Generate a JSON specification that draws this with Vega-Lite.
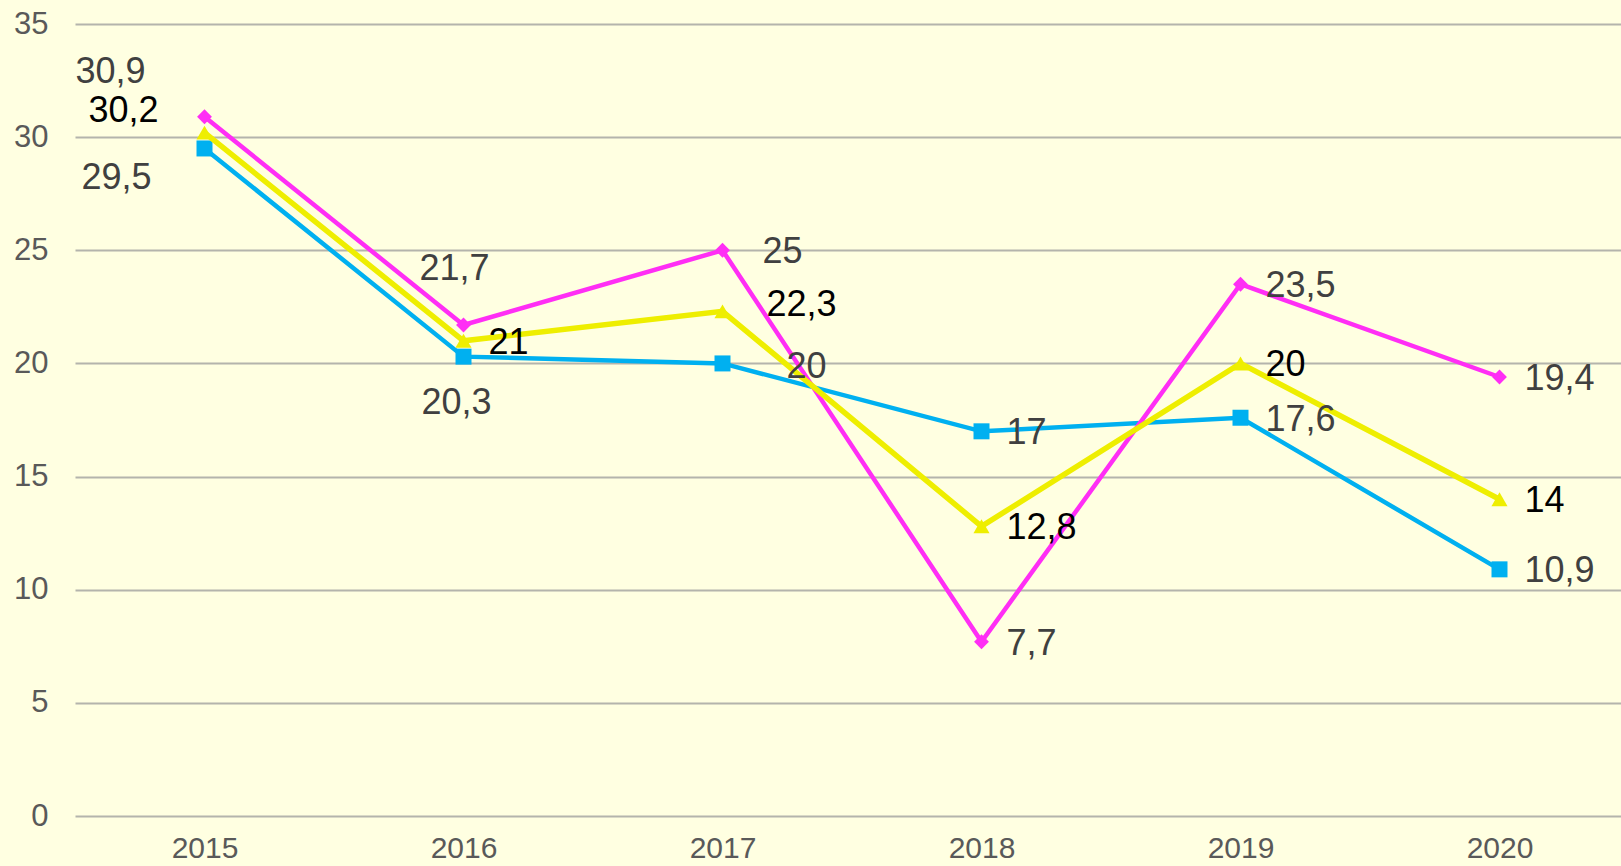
{
  "$schema": "https://vega.github.io/schema/vega-lite/v6.json",
  "autosize": "none",
  "padding": {"left": 75, "top": 24, "right": 0, "bottom": 50},
  "width": 1554,
  "height": 792,
  "background": "#FFFFE1",
  "config": {
    "view": {"stroke": null},
    "font": "Liberation Sans",
    "locale": {"number": {"decimal": ",", "thousands": " ", "grouping": [3], "currency": ["", ""]}}
  },
  "data": {
    "values": [
      {"year": "2015", "series": "Series 1", "value": 29.5},
      {"year": "2016", "series": "Series 1", "value": 20.3},
      {"year": "2017", "series": "Series 1", "value": 20},
      {"year": "2018", "series": "Series 1", "value": 17},
      {"year": "2019", "series": "Series 1", "value": 17.6},
      {"year": "2020", "series": "Series 1", "value": 10.9},
      {"year": "2015", "series": "Series 2", "value": 30.9},
      {"year": "2016", "series": "Series 2", "value": 21.7},
      {"year": "2017", "series": "Series 2", "value": 25},
      {"year": "2018", "series": "Series 2", "value": 7.7},
      {"year": "2019", "series": "Series 2", "value": 23.5},
      {"year": "2020", "series": "Series 2", "value": 19.4},
      {"year": "2015", "series": "Series 3", "value": 30.2},
      {"year": "2016", "series": "Series 3", "value": 21},
      {"year": "2017", "series": "Series 3", "value": 22.3},
      {"year": "2018", "series": "Series 3", "value": 12.8},
      {"year": "2019", "series": "Series 3", "value": 20},
      {"year": "2020", "series": "Series 3", "value": 14}
    ]
  },
  "encoding": {
    "x": {
      "field": "year", "type": "ordinal", "sort": "ascending",
      "scale": {"type": "point", "padding": 0.5},
      "axis": {"title": null, "domain": false, "ticks": false, "grid": false, "labelAngle": 0,
               "labelFontSize": 30, "labelColor": "#595959", "labelPadding": 17}
    },
    "y": {
      "field": "value", "type": "quantitative",
      "scale": {"domain": [0, 35], "nice": false, "zero": true},
      "axis": {"title": null, "domain": false, "ticks": false, "values": [0, 5, 10, 15, 20, 25, 30, 35],
               "grid": true, "gridColor": "#B4B4AC", "gridWidth": 2, "labelFontSize": 31,
               "labelColor": "#595959", "labelPadding": 27}
    }
  },
  "layer": [
    {
      "transform": [{"filter": "datum.series === 'Series 1'"}],
      "mark": {"type": "line", "color": "#00B0F0", "strokeWidth": 4.5,
               "point": {"shape": "square", "size": 256, "filled": true, "color": "#00B0F0", "opacity": 1}}
    },
    {
      "transform": [{"filter": "datum.series === 'Series 2'"}],
      "mark": {"type": "line", "color": "#FF2EF5", "strokeWidth": 4.5,
               "point": {"shape": "diamond", "size": 220, "filled": true, "color": "#FF2EF5", "opacity": 1}}
    },
    {
      "transform": [{"filter": "datum.series === 'Series 3'"}],
      "mark": {"type": "line", "color": "#EEEE00", "strokeWidth": 5.5,
               "point": {"shape": "triangle-up", "size": 260, "filled": true, "color": "#EEEE00", "opacity": 1}}
    },
    {
      "transform": [{"filter": "(datum.year === '2016' && datum.series === 'Series 3') || datum.year === '2018' || datum.year === '2019' || datum.year === '2020'"}],
      "mark": {"type": "text", "align": "left", "baseline": "middle", "dx": 25, "dy": 2, "fontSize": 36},
      "encoding": {
        "text": {"field": "value", "type": "quantitative", "format": ".1~f"},
        "color": {"condition": {"test": "datum.series === 'Series 3'", "value": "#000000"}, "value": "#404040"}
      }
    },
    {
      "transform": [{"filter": "datum.year === '2017' && datum.series === 'Series 2'"}],
      "mark": {"type": "text", "align": "left", "baseline": "middle", "dx": 40, "dy": 2, "fontSize": 36, "color": "#404040"},
      "encoding": {"text": {"field": "value", "type": "quantitative", "format": ".1~f"}}
    },
    {
      "transform": [{"filter": "datum.year === '2017' && datum.series === 'Series 3'"}],
      "mark": {"type": "text", "align": "left", "baseline": "middle", "dx": 44, "dy": -6, "fontSize": 36, "color": "#000000"},
      "encoding": {"text": {"field": "value", "type": "quantitative", "format": ".1~f"}}
    },
    {
      "transform": [{"filter": "datum.year === '2017' && datum.series === 'Series 1'"}],
      "mark": {"type": "text", "align": "left", "baseline": "middle", "dx": 64, "dy": 4, "fontSize": 36, "color": "#404040"},
      "encoding": {"text": {"field": "value", "type": "quantitative", "format": ".1~f"}}
    },
    {
      "transform": [{"filter": "datum.year === '2016' && datum.series === 'Series 2'"}],
      "mark": {"type": "text", "align": "center", "baseline": "middle", "dx": -9, "dy": -56, "fontSize": 36, "color": "#404040"},
      "encoding": {"text": {"field": "value", "type": "quantitative", "format": ".1~f"}}
    },
    {
      "transform": [{"filter": "datum.year === '2016' && datum.series === 'Series 1'"}],
      "mark": {"type": "text", "align": "center", "baseline": "middle", "dx": -7, "dy": 46, "fontSize": 36, "color": "#404040"},
      "encoding": {"text": {"field": "value", "type": "quantitative", "format": ".1~f"}}
    },
    {
      "transform": [{"filter": "datum.year === '2015' && datum.series === 'Series 2'"}],
      "mark": {"type": "text", "align": "center", "baseline": "middle", "dx": -94, "dy": -45, "fontSize": 36, "color": "#404040"},
      "encoding": {"text": {"field": "value", "type": "quantitative", "format": ".1~f"}}
    },
    {
      "transform": [{"filter": "datum.year === '2015' && datum.series === 'Series 3'"}],
      "mark": {"type": "text", "align": "center", "baseline": "middle", "dx": -81, "dy": -22, "fontSize": 36, "color": "#000000"},
      "encoding": {"text": {"field": "value", "type": "quantitative", "format": ".1~f"}}
    },
    {
      "transform": [{"filter": "datum.year === '2015' && datum.series === 'Series 1'"}],
      "mark": {"type": "text", "align": "center", "baseline": "middle", "dx": -88, "dy": 30, "fontSize": 36, "color": "#404040"},
      "encoding": {"text": {"field": "value", "type": "quantitative", "format": ".1~f"}}
    }
  ]
}
